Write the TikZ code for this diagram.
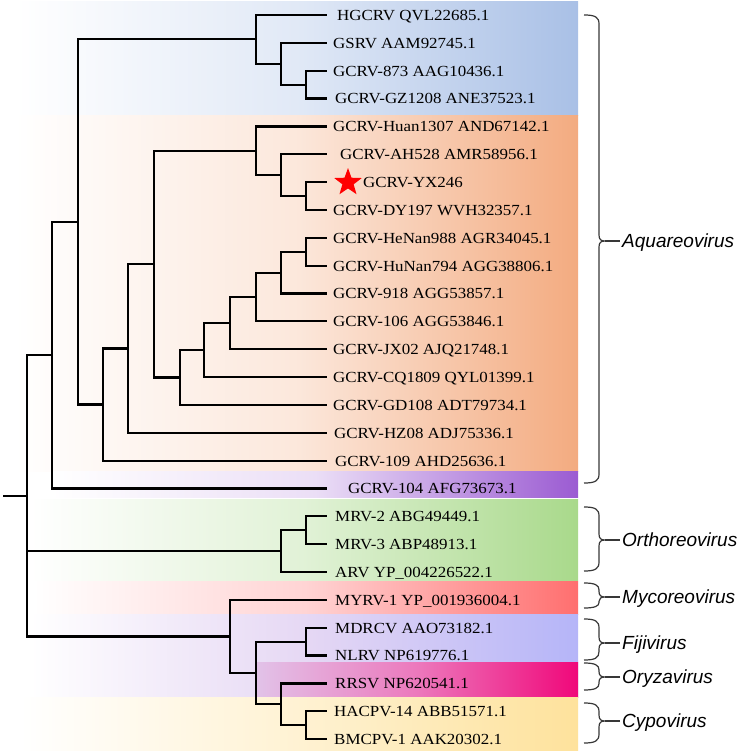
\documentclass[tikz,border=0pt]{standalone}
\usepackage{fontspec}
\setmainfont{Liberation Serif}[FakeStretch=1.1]
\newfontfamily\genusfont{Liberation Sans}
\usetikzlibrary{shapes.geometric}
\definecolor{cBlue}{HTML}{A9C0E6}
\definecolor{cOrange}{HTML}{F3AB80}
\definecolor{cPurple}{HTML}{9B5BD2}
\definecolor{cGreen}{HTML}{A9D98B}
\definecolor{cRed}{HTML}{FF6F6F}
\definecolor{cLav}{HTML}{B5B5F8}
\definecolor{cLavMid}{HTML}{E6D8F4}
\definecolor{cPink}{HTML}{F0087A}
\definecolor{cPinkL}{HTML}{E2C2E8}
\definecolor{cPinkM}{HTML}{EC78BC}
\definecolor{cYellow}{HTML}{FEE29C}
\definecolor{cBrace}{HTML}{383838}
\newcommand\genbrace[5]{%
  \pgfmathsetmacro\ga{min(9,0.5*(#2-#1))}%
  \pgfmathsetmacro\gb{min(6,0.4*(#2-#1))}%
  \pgfmathsetmacro\gc{min(9,0.5*(#3-#2))}%
  \pgfmathsetmacro\gd{min(6,0.4*(#3-#2))}%
  \node[genus] (#4) at (620,#2) {#5};
  \draw[bracestyle] (584,#1) .. controls (595,#1) and (599,#1+2) .. (599,#1+\ga) -- (599,#2-\gb)
     .. controls (599,#2-1.5) and (601,#2) .. (605,#2)
     .. controls (601,#2) and (599,#2+1.5) .. (599,#2+\gd) -- (599,#3-\gc)
     .. controls (599,#3-2) and (595,#3) .. (584,#3);
  \draw[bracestyle] (605,#2) -- (#4.west);
}
\begin{document}
\begin{tikzpicture}[x=1pt,y=-1pt,
  branch/.style={line width=2.2pt, line join=miter, black},
  leaf/.style={anchor=west, inner ysep=0pt, inner xsep=6pt, text height=10.8pt, text depth=0pt,
    font=\fontsize{15.4}{18}\selectfont},
  genus/.style={anchor=west, inner xsep=2pt, inner ysep=0pt, text height=13.5pt, text depth=0pt,
    font=\genusfont\itshape\fontsize{19}{22}\selectfont},
  bracestyle/.style={line width=1.2pt, cBrace},
  band/.style={draw=none}]
\useasboundingbox (0,0) rectangle (744,752);
\fill[white] (0,0) rectangle (744,752);
% colour bands
\shade[band, left color=white, right color=cBlue, middle color=cBlue!35!white] (15,2) rectangle (578,115);
\shade[band, left color=white, right color=cOrange, middle color=cOrange!28!white] (15,115) rectangle (578,471);
\shade[band, left color=white, right color=cPurple, middle color=cPurple!20!white] (52,471) rectangle (578,497);
\shade[band, left color=white, right color=cGreen, middle color=cGreen!35!white] (30,499) rectangle (578,580);
\shade[band, left color=white, right color=cRed, middle color=cRed!30!white] (33,581) rectangle (578,614);
\shade[band, left color=white, right color=cLav, middle color=cLavMid] (30,614) rectangle (578,697);
\shade[band, left color=cPinkL, right color=cPink, middle color=cPinkM] (257,662) rectangle (578,697);
\shade[band, left color=white, right color=cYellow, middle color=cYellow!45!white] (20,697) rectangle (578,750);

% leaf labels
\node[leaf, inner xsep=10pt] (t0) at (327,15.0) {HGCRV QVL22685.1};
\node[leaf] (t1) at (327,42.85) {GSRV AAM92745.1};
\node[leaf] (t2) at (327,70.7) {GCRV-873 AAG10436.1};
\node[leaf, inner xsep=8pt] (t3) at (327,98.55) {GCRV-GZ1208 ANE37523.1};
\node[leaf] (t4) at (327,126.4) {GCRV-Huan1307 AND67142.1};
\node[leaf, inner xsep=13pt] (t5) at (327,154.25) {GCRV-AH528 AMR58956.1};
\node[leaf, inner xsep=36pt] (t6) at (327,182.1) {GCRV-YX246};
\node[leaf] (t7) at (327,209.95) {GCRV-DY197 WVH32357.1};
\node[leaf] (t8) at (327,237.8) {GCRV-HeNan988 AGR34045.1};
\node[leaf] (t9) at (327,265.65) {GCRV-HuNan794 AGG38806.1};
\node[leaf] (t10) at (327,293.5) {GCRV-918 AGG53857.1};
\node[leaf] (t11) at (327,321.35) {GCRV-106 AGG53846.1};
\node[leaf] (t12) at (327,349.2) {GCRV-JX02 AJQ21748.1};
\node[leaf] (t13) at (327,377.05) {GCRV-CQ1809 QYL01399.1};
\node[leaf] (t14) at (327,404.9) {GCRV-GD108 ADT79734.1};
\node[leaf, inner xsep=7pt] (t15) at (327,432.75) {GCRV-HZ08 ADJ75336.1};
\node[leaf, inner xsep=8pt] (t16) at (327,460.6) {GCRV-109 AHD25636.1};
\node[leaf, inner xsep=21pt] (t17) at (327,488.45) {GCRV-104 AFG73673.1};
\node[leaf, inner xsep=8pt] (t18) at (327,516.3) {MRV-2 ABG49449.1};
\node[leaf, inner xsep=8pt] (t19) at (327,544.15) {MRV-3 ABP48913.1};
\node[leaf, inner xsep=8pt] (t20) at (327,572.0) {ARV YP\_004226522.1};
\node[leaf, inner xsep=8pt] (t21) at (327,599.85) {MYRV-1 YP\_001936004.1};
\node[leaf, inner xsep=8pt] (t22) at (327,627.7) {MDRCV AAO73182.1};
\node[leaf, inner xsep=8pt] (t23) at (327,655.55) {NLRV NP619776.1};
\node[leaf, inner xsep=8pt] (t24) at (327,683.4) {RRSV NP620541.1};
\node[leaf, inner xsep=7pt] (t25) at (327,711.25) {HACPV-14 ABB51571.1};
\node[leaf, inner xsep=7pt] (t26) at (327,739.1) {BMCPV-1 AAK20302.1};
\node[star, star points=5, star point ratio=2.45, minimum size=29pt, inner sep=0pt, fill=red] (star) at (348,182.5) {};

% internal nodes
\coordinate (nA) at (306,84.6);
\coordinate (nB) at (281,63.7);
\coordinate (nC) at (256,39.4);
\coordinate (nD) at (306,196.0);
\coordinate (nE) at (281,175.1);
\coordinate (nF) at (256,150.8);
\coordinate (nG) at (306,251.7);
\coordinate (nH) at (281,272.6);
\coordinate (nI) at (256,297.0);
\coordinate (nJ) at (230,323.1);
\coordinate (nK) at (204,350.1);
\coordinate (nL) at (180,377.5);
\coordinate (nM) at (154,264.1);
\coordinate (nN) at (128,348.4);
\coordinate (nO) at (103,404.5);
\coordinate (nP) at (78,222.0);
\coordinate (nQ) at (52,355.2);
\coordinate (nR) at (306,530.2);
\coordinate (nS) at (281,551.1);
\coordinate (nT) at (306,641.6);
\coordinate (nU) at (306,725.2);
\coordinate (nV) at (281,704.3);
\coordinate (nW) at (256,673.0);
\coordinate (nX) at (230,636.4);
\coordinate (root) at (27,495.8);
\coordinate (stub) at (3,495.8);

% branches
\draw[branch] (nA) |- (t2.west); \draw[branch] (nA) |- (t3.west);
\draw[branch] (nB) |- (t1.west); \draw[branch] (nB) |- (nA);
\draw[branch] (nC) |- (t0.west); \draw[branch] (nC) |- (nB);
\draw[branch] (nD) |- (t6.west); \draw[branch] (nD) |- (t7.west);
\draw[branch] (nE) |- (t5.west); \draw[branch] (nE) |- (nD);
\draw[branch] (nF) |- (t4.west); \draw[branch] (nF) |- (nE);
\draw[branch] (nG) |- (t8.west); \draw[branch] (nG) |- (t9.west);
\draw[branch] (nH) |- (nG); \draw[branch] (nH) |- (t10.west);
\draw[branch] (nI) |- (nH); \draw[branch] (nI) |- (t11.west);
\draw[branch] (nJ) |- (nI); \draw[branch] (nJ) |- (t12.west);
\draw[branch] (nK) |- (nJ); \draw[branch] (nK) |- (t13.west);
\draw[branch] (nL) |- (nK); \draw[branch] (nL) |- (t14.west);
\draw[branch] (nM) |- (nF); \draw[branch] (nM) |- (nL);
\draw[branch] (nN) |- (nM); \draw[branch] (nN) |- (t15.west);
\draw[branch] (nO) |- (nN); \draw[branch] (nO) |- (t16.west);
\draw[branch] (nP) |- (nC); \draw[branch] (nP) |- (nO);
\draw[branch] (nQ) |- (nP); \draw[branch] (nQ) |- (t17.west);
\draw[branch] (nR) |- (t18.west); \draw[branch] (nR) |- (t19.west);
\draw[branch] (nS) |- (nR); \draw[branch] (nS) |- (t20.west);
\draw[branch] (nT) |- (t22.west); \draw[branch] (nT) |- (t23.west);
\draw[branch] (nU) |- (t25.west); \draw[branch] (nU) |- (t26.west);
\draw[branch] (nV) |- (t24.west); \draw[branch] (nV) |- (nU);
\draw[branch] (nW) |- (nT); \draw[branch] (nW) |- (nV);
\draw[branch] (nX) |- (t21.west); \draw[branch] (nX) |- (nW);
\draw[branch] (root) |- (nQ); \draw[branch] (root) |- (nS); \draw[branch] (root) |- (nX);
\draw[branch] (stub) -- (root);

% genus braces
\genbrace{15}{241}{483}{gAqua}{Aquareovirus}
\genbrace{507}{540}{571}{gOrtho}{Orthoreovirus}
\genbrace{583}{597}{608}{gMyco}{Mycoreovirus}
\genbrace{619}{643}{660}{gFiji}{Fijivirus}
\genbrace{663}{677}{690}{gOryza}{Oryzavirus}
\genbrace{703}{721}{743}{gCypo}{Cypovirus}
\end{tikzpicture}
\end{document}
